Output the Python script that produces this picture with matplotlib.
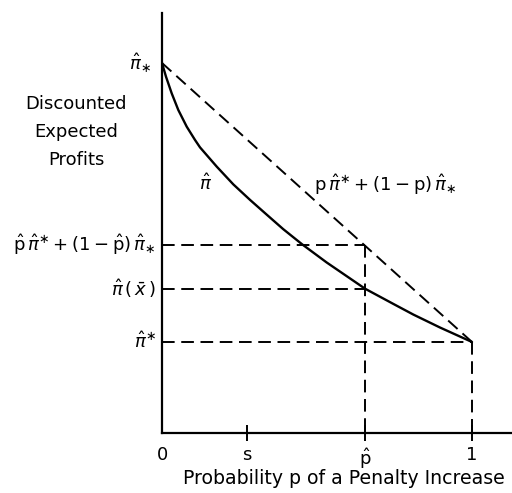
import matplotlib
matplotlib.use("Agg")
import matplotlib.pyplot as plt

plt.rcParams['mathtext.fontset'] = 'dejavusans'
plt.rcParams['font.family'] = ['DejaVu Sans']

# Data (y in units where pi_hat_* = 1)
tick_pos = [0.0, 0.274, 0.655, 1.0]
tick_labels = ['0', 's', r'$\hat{\rm p}$', '1']
p_hat = 0.655
pi_upper = 1.0      # pi_hat_*
pi_lower = 0.246    # pi_hat^*
pi_xbar = 0.389     # pi_hat(x_bar)
pi_combo = 0.508    # p_hat pi^* + (1-p_hat) pi_*

curve_p = [0.0, 0.0129, 0.0313, 0.0526, 0.0797, 0.1065, 0.1226, 0.1765, 0.230,
           0.284, 0.338, 0.391, 0.452, 0.531, 0.655, 0.746, 0.811, 0.897, 1.0]
curve_pi = [1.0, 0.963, 0.918, 0.873, 0.828, 0.792, 0.772, 0.720, 0.672,
            0.630, 0.590, 0.551, 0.510, 0.461, 0.390, 0.349, 0.320, 0.285, 0.246]

fig = plt.figure(figsize=(5.12, 4.93), dpi=100)
ax = fig.add_axes([162/512, 60/493, 350/512, 420/493])
ax.set_xlim(0, 350/310)
ax.set_ylim(0, 420/370)
for sp in ['top', 'right']:
    ax.spines[sp].set_visible(False)
for sp in ['left', 'bottom']:
    ax.spines[sp].set_linewidth(1.6)
    ax.spines[sp].set_color('black')

dash = (0, (6.5, 3.4))
lw_d = 1.4
# chord
ax.plot([0, 1], [pi_upper, pi_lower], color='black', lw=lw_d, linestyle=dash)
# curve
ax.plot(curve_p, curve_pi, color='black', lw=1.7, solid_capstyle='round',
        solid_joinstyle='round')
# guide lines
ax.plot([0, p_hat], [pi_combo, pi_combo], color='black', lw=lw_d, linestyle=dash)
ax.plot([0, p_hat], [pi_xbar, pi_xbar], color='black', lw=lw_d, linestyle=dash)
ax.plot([0, 1], [pi_lower, pi_lower], color='black', lw=lw_d, linestyle=dash)
ax.plot([p_hat, p_hat], [pi_combo, 0], color='black', lw=lw_d, linestyle=dash)
ax.plot([1, 1], [pi_lower, 0], color='black', lw=lw_d, linestyle=dash)

ax.set_yticks([])
ax.set_xticks(tick_pos[1:])
ax.set_xticklabels([''] * 3)
ax.tick_params(axis='x', direction='inout', length=12, width=1.4, pad=0)

fs = 13
for xp, lab in zip(tick_pos, tick_labels):
    ax.text(xp, -0.035, lab, ha='center', va='top', fontsize=fs)

fig.text(344/512, 1 - 478/493, 'Probability p of a Penalty Increase',
         ha='center', va='center', fontsize=13.6)

for i, line in enumerate(['Discounted', 'Expected', 'Profits']):
    fig.text(76/512, 1 - (104 + 28*i)/493, line, ha='center', va='center', fontsize=fs)

# y-side labels
def ylab(y, s, xoff=-0.04):
    ax.text(xoff, y, s, ha='right', va='center', fontsize=fs,
            transform=ax.transData, clip_on=False)

ylab(pi_upper + 0.0, r'$\hat{\pi}_{\ast}$', xoff=-0.035)
ylab(pi_combo, r'$\hat{\rm p}\,\hat{\pi}^{\ast} + (1-\hat{\rm p})\,\hat{\pi}_{\ast}$', xoff=-0.02)
ylab(pi_xbar, r'$\hat{\pi}\,(\,\bar{x}\,)$', xoff=-0.02)
ylab(pi_lower, r'$\hat{\pi}^{\ast}$', xoff=-0.02)

ax.text(0.14, 0.675, r'$\hat{\pi}$', ha='center', va='center', fontsize=fs)
ax.text(0.72, 0.672, r'${\rm p}\,\hat{\pi}^{\ast} + (1-{\rm p})\,\hat{\pi}_{\ast}$',
        ha='center', va='center', fontsize=fs)

fig.savefig('out.png', dpi=100)
